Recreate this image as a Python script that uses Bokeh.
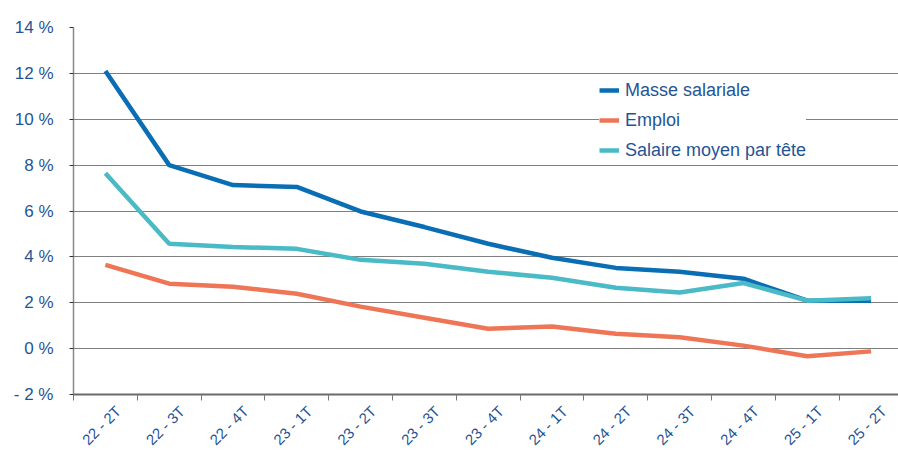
import math
from bokeh.plotting import figure
from bokeh.models import FixedTicker, Legend, LegendItem, ColumnDataSource, Range1d
from bokeh.embed import file_html
from bokeh.resources import INLINE

categories = ["22 - 2T", "22 - 3T", "22 - 4T", "23 - 1T", "23 - 2T", "23 - 3T", "23 - 4T",
              "24 - 1T", "24 - 2T", "24 - 3T", "24 - 4T", "25 - 1T", "25 - 2T"]
masse_salariale = [12.1, 8.0, 7.13, 7.05, 5.98, 5.3, 4.57, 3.96, 3.52, 3.35, 3.05, 2.09, 2.09]
emploi = [3.65, 2.83, 2.7, 2.39, 1.83, 1.35, 0.87, 0.96, 0.65, 0.5, 0.13, -0.33, -0.12]
salaire_moyen = [7.65, 4.57, 4.43, 4.35, 3.87, 3.7, 3.35, 3.09, 2.65, 2.45, 2.86, 2.09, 2.2]
y_ticks = [-2, 0, 2, 4, 6, 8, 10, 12, 14]
y_tick_labels = ["- 2 %", "0 %", "2 %", "4 %", "6 %", "8 %", "10 %", "12 %", "14 %"]

TEXT = "#1F5596"
FONT = "Liberation Sans"
LABEL_SHIFT = 0.2  # visual offset of rotated category labels

xs = list(range(len(categories)))
src = ColumnDataSource(dict(x=xs, masse=masse_salariale, emploi=emploi, salaire=salaire_moyen))

p = figure(frame_width=825, frame_height=367, output_backend="svg", toolbar_location=None,
           x_range=Range1d(-0.5, 12.43), y_range=Range1d(-2, 14),
           min_border_left=73, min_border_right=0, min_border_top=27, min_border_bottom=40)
p.outline_line_color = None
p.background_fill_color = "white"

r1 = p.line("x", "masse", source=src, line_color="#0A6EB4", line_width=4.5)
r2 = p.line("x", "emploi", source=src, line_color="#EE7656", line_width=4.5)
r3 = p.line("x", "salaire", source=src, line_color="#4ABAC6", line_width=4.5)

# x axis
label_pos = [i + LABEL_SHIFT for i in xs]
p.xaxis.ticker = FixedTicker(ticks=label_pos, minor_ticks=[i - 0.5 for i in range(len(categories) + 1)])
p.xaxis.major_label_overrides = {pos: c for pos, c in zip(label_pos, categories)}
p.xaxis.major_label_orientation = math.pi / 4
p.xaxis.major_tick_out = 0
p.xaxis.major_tick_in = 0
p.xaxis.minor_tick_out = 6
p.xaxis.minor_tick_in = 0
p.xaxis.minor_tick_line_color = "#777777"
p.xaxis.axis_line_color = "#6a6a6a"
p.xaxis.axis_line_width = 2
p.xaxis.major_label_text_font = FONT
p.xaxis.major_label_text_font_size = "15px"
p.xaxis.major_label_text_color = TEXT
p.xaxis.major_label_standoff = 8

# y axis
p.yaxis.ticker = FixedTicker(ticks=y_ticks, minor_ticks=[])
p.yaxis.major_label_overrides = {t: l for t, l in zip(y_ticks, y_tick_labels)}
p.yaxis.major_tick_out = 4
p.yaxis.major_tick_in = 0
p.yaxis.major_tick_line_color = "#333333"
p.yaxis.axis_line_color = "#888888"
p.yaxis.axis_line_width = 1.5
p.yaxis.major_label_text_font = FONT
p.yaxis.major_label_text_font_size = "17px"
p.yaxis.major_label_text_color = TEXT
p.yaxis.major_label_standoff = 16

p.xgrid.grid_line_color = None
p.ygrid.grid_line_color = "#000000"
p.ygrid.grid_line_dash = "1 1"
p.ygrid.grid_line_width = 1

legend = Legend(items=[LegendItem(label="Masse salariale", renderers=[r1]),
                       LegendItem(label="Emploi", renderers=[r2]),
                       LegendItem(label="Salaire moyen par tête", renderers=[r3])],
                location=(526, 233), border_line_color=None, background_fill_color="white",
                background_fill_alpha=1.0, padding=10, spacing=8, label_height=22,
                glyph_height=22, glyph_width=20, label_standoff=6, margin=0,
                label_text_font=FONT, label_text_font_size="18px", label_text_color=TEXT)
p.add_layout(legend, "center")

html = file_html(p, INLINE)
html = html.replace("<head>", "<head><style>html, body { overflow: hidden; }</style>", 1)
open("out.html", "w").write(html)
